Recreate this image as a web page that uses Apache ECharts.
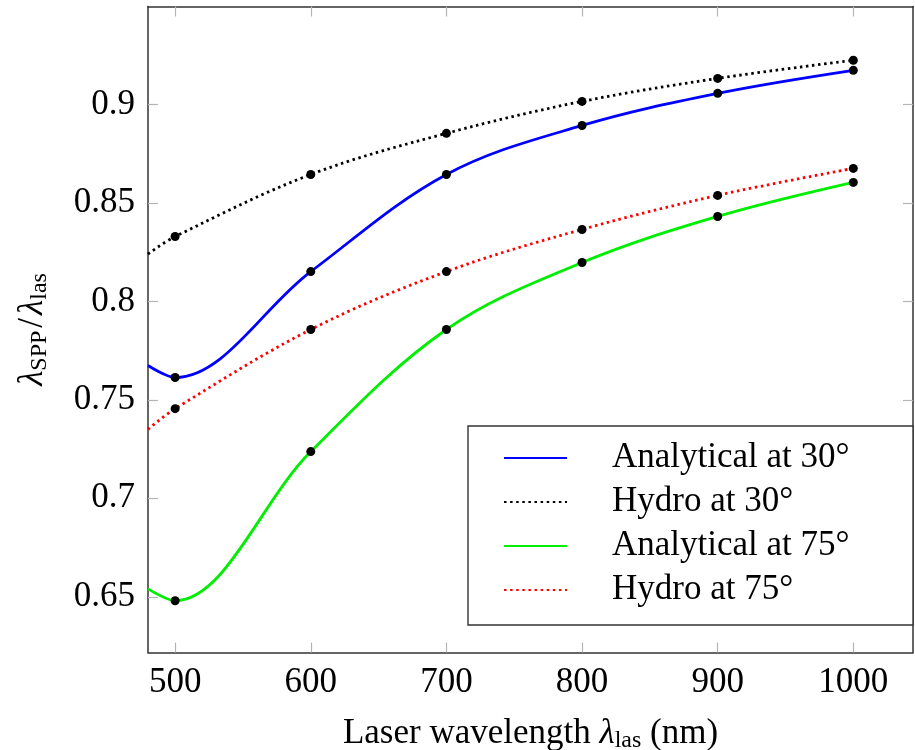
<!DOCTYPE html>
<html><head><meta charset="utf-8">
<script src="https://cdn.jsdelivr.net/npm/echarts@6/dist/echarts.min.js"></script>
<style>html,body{margin:0;padding:0;background:#fff}#c{width:915px;height:750px}</style>
</head><body><div id="c"></div>
<script>
// wavelengths of the computed (marked) points, nm
var wavelengths = [500, 600, 700, 800, 900, 1000];
// series values at the marked points
var analytical30 = [0.7613, 0.8151, 0.8644, 0.8893, 0.9056, 0.9173];
var hydro30      = [0.8329, 0.8644, 0.8853, 0.9015, 0.9132, 0.9224];
var analytical75 = [0.6480, 0.7237, 0.7857, 0.8197, 0.8431, 0.8604];
var hydro75      = [0.7455, 0.7857, 0.8151, 0.8365, 0.8538, 0.8675];
// the drawn curves enter the plot at its left border (480 nm) at these values
var curveStartX = 480;
var analytical30Start = 0.7674;
var hydro30Start      = 0.8240;
var analytical75Start = 0.6540;
var hydro75Start      = 0.7350;

// tick labels
var xTicks = [500, 600, 700, 800, 900, 1000];
var yTicks = [0.65, 0.7, 0.75, 0.8, 0.85, 0.9];
var seriesNames = ['Analytical at 30°', 'Hydro at 30°', 'Analytical at 75°', 'Hydro at 75°'];

var FONT = '"Liberation Serif", "DejaVu Serif", serif';

function pairs(xs, ys) {
  return xs.map(function (x, i) { return [x, ys[i]]; });
}
function curve(startVal, vals) {
  return [[curveStartX, startVal]].concat(pairs(wavelengths, vals));
}

var dotted = [2.5, 3.6];
var lineSeries = [
  {name: seriesNames[0], data: curve(analytical30Start, analytical30), color: '#0000ff', type: 'solid'},
  {name: seriesNames[1], data: curve(hydro30Start, hydro30), color: '#000000', type: dotted},
  {name: seriesNames[2], data: curve(analytical75Start, analytical75), color: '#00ee00', type: 'solid'},
  {name: seriesNames[3], data: curve(hydro75Start, hydro75), color: '#ff0000', type: dotted}
].map(function (s) {
  return {
    type: 'line', name: s.name, data: s.data, smooth: 0.35, showSymbol: false, symbol: 'none',
    color: s.color, itemStyle: {color: s.color},
    lineStyle: {color: s.color, width: 2.8, type: s.type}, z: 2, animation: false
  };
});
var markerSeries = [analytical30, hydro30, analytical75, hydro75].map(function (v) {
  return {type: 'scatter', data: pairs(wavelengths, v), symbol: 'circle', symbolSize: 9,
    itemStyle: {color: '#000', opacity: 1}, z: 3, animation: false, silent: true};
});

var chart = echarts.init(document.getElementById('c'), null, {renderer: 'canvas'});
var tickStyle = {show: true, inside: true, length: 10, lineStyle: {color: '#b4b4b4', width: 1.2}};
var frame = {show: true, onZero: false, lineStyle: {color: '#333', width: 1.5}};
chart.setOption({
  animation: false,
  backgroundColor: '#fff',
  grid: {left: 148, right: 2, top: 6.5, bottom: 97.5, containLabel: false, outerBoundsMode: 'none'},
  xAxis: [{
    type: 'value', min: 480, max: 1044, position: 'bottom',
    axisLine: frame, splitLine: {show: false},
    axisTick: Object.assign({customValues: xTicks}, tickStyle),
    axisLabel: {customValues: xTicks, fontFamily: FONT, fontSize: 35, color: '#000', margin: 13,
      formatter: function (v) { return String(v); }},
    name: 'Laser wavelength {m|λ}{s|las} (nm)', nameLocation: 'middle', nameGap: 62,
    nameTextStyle: {fontFamily: FONT, fontSize: 35, color: '#000',
      rich: {m: {fontFamily: FONT, fontSize: 35, fontStyle: 'italic', color: '#000'},
             s: {fontFamily: FONT, fontSize: 24, color: '#000', padding: [14, 0, 0, 0]}}}
  }, {
    type: 'value', min: 480, max: 1044, position: 'top',
    axisLine: frame, splitLine: {show: false},
    axisTick: Object.assign({customValues: xTicks}, tickStyle),
    axisLabel: {show: false}
  }],
  yAxis: [{
    type: 'value', min: 0.6217, max: 0.9497, position: 'left',
    axisLine: frame, splitLine: {show: false},
    axisTick: Object.assign({customValues: yTicks}, tickStyle),
    axisLabel: {customValues: yTicks, fontFamily: FONT, fontSize: 35, color: '#000', margin: 13,
      formatter: function (v) { return String(Math.round(v * 100) / 100); }},
    name: '{m|λ}{s|SPP}{t|/}{m|λ}{s|las}', nameLocation: 'middle', nameGap: 96, nameRotate: 90,
    nameTextStyle: {fontFamily: FONT, fontSize: 35, color: '#000',
      rich: {m: {fontFamily: FONT, fontSize: 35, fontStyle: 'italic', color: '#000'},
             t: {fontFamily: FONT, fontSize: 35, color: '#000', padding: [0, 3, 0, 3]},
             s: {fontFamily: FONT, fontSize: 24, color: '#000', padding: [14, 0, 0, 0]}}}
  }, {
    type: 'value', min: 0.6217, max: 0.9497, position: 'right',
    axisLine: frame, splitLine: {show: false},
    axisTick: Object.assign({customValues: yTicks}, tickStyle),
    axisLabel: {show: false}
  }],
  legend: {
    data: seriesNames, orient: 'vertical', left: 503, top: 440,
    itemWidth: 63, itemHeight: 14, itemGap: 8, padding: 0, z: 6,
    itemStyle: {opacity: 0},
    textStyle: {fontFamily: FONT, fontSize: 35, color: '#000', lineHeight: 36, padding: [0, 0, 0, 40]}
  },
  graphic: [{
    type: 'rect', z: 5, shape: {x: 468, y: 426, width: 445, height: 199},
    style: {fill: '#fff', stroke: '#333', lineWidth: 1.4}
  }],
  series: lineSeries.concat(markerSeries)
});
</script></body></html>
